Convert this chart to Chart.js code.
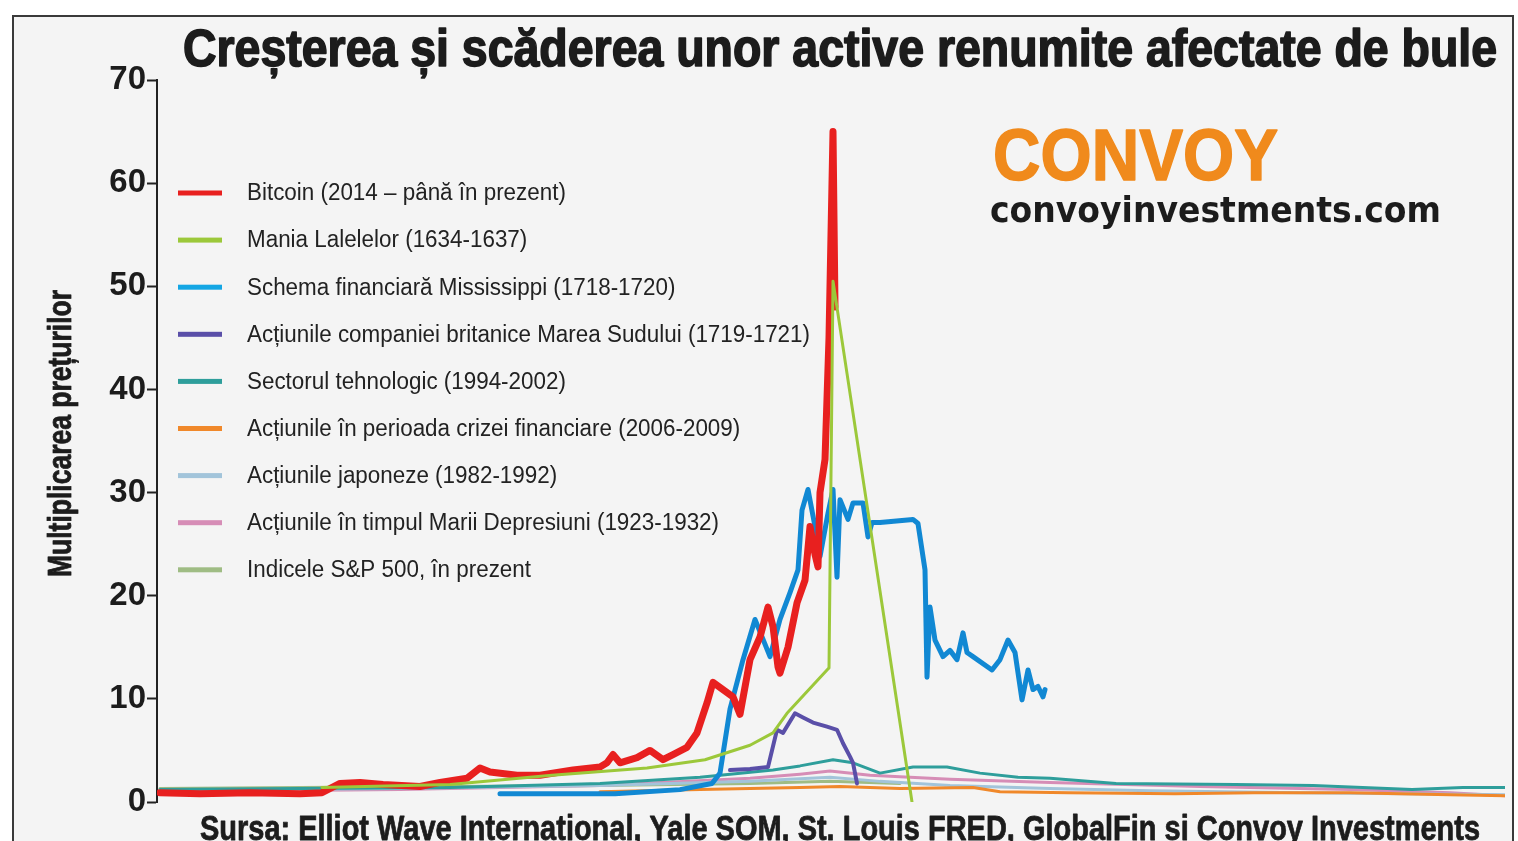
<!DOCTYPE html>
<html>
<head>
<meta charset="utf-8">
<script src="https://cdn.jsdelivr.net/npm/chart.js@4.4.1/dist/chart.umd.min.js"></script>
<style>
  html, body { margin: 0; padding: 0; background: #fff; overflow: hidden; }
  #wrap { position: relative; width: 1518px; height: 841px; }
  #frame { position: absolute; left: 12px; top: 15px; width: 1498px; height: 840px;
           border: 2px solid #3a3a3a; background: #f4f4f4; }
  canvas { position: absolute; left: 0; top: 0; }
</style>
</head>
<body>
<div id="wrap">
  <div id="frame"></div>
  <canvas id="chart" width="1518" height="841"></canvas>
</div>
<script>
// x = relative time step (no axis labels in the original), y = price multiple
const btcX = [0.3, 4.3, 9.3, 14.3, 16.5, 18.3, 20.3, 22.6, 26.3, 28.3, 31.0, 32.3, 33.3, 36.0, 38.3, 41.6, 44.3, 45.0, 45.6, 46.3, 48.0, 49.3, 50.6, 51.6, 53.0, 54.0, 55.0, 55.6, 56.6, 57.6, 58.3, 59.3, 60.3, 61.1, 61.6, 62.1, 62.3, 63.1, 64.0, 64.8, 65.3, 65.8, 66.1, 66.3, 66.8, 67.2, 67.6, 67.8];
const btcY = [0.9, 0.8, 0.9, 0.8, 0.9, 1.8, 1.9, 1.7, 1.5, 1.9, 2.3, 3.3, 2.9, 2.6, 2.6, 3.1, 3.4, 3.8, 4.6, 3.8, 4.3, 5.0, 4.1, 4.6, 5.3, 6.7, 9.6, 11.6, 10.9, 10.2, 8.5, 13.8, 16, 18.9, 17, 13.1, 12.5, 15, 19.3, 21.5, 26.7, 24, 22.8, 30, 33.2, 45, 65, 48];

const tulipX = [16.5, 29.3, 39.5, 49.0, 54.8, 59.3, 61.6, 63.0, 67.0, 67.2, 67.6, 75.5];
const tulipY = [1.4, 1.7, 2.6, 3.3, 4.1, 5.5, 6.7, 8.6, 12.8, 13, 50.5, 0];

const missX = [34.3, 45.8, 52.3, 55.5, 56.3, 57.3, 58.6, 59.8, 61.3, 62.3, 63.3, 64.1, 64.5, 65.1, 65.8, 66.3, 67.1, 67.6, 68.0, 68.3, 69.1, 69.6, 70.6, 71.1, 71.5, 72.3, 75.6, 76.1, 76.8, 77.0, 77.3, 77.8, 78.6, 79.3, 80.0, 80.6, 81.0, 81.6, 83.5, 84.3, 85.1, 85.8, 86.5, 87.1, 87.6, 88.1, 88.6, 88.8];
const missY = [0.8, 0.8, 1.2, 1.8, 2.8, 9.0, 13.8, 17.7, 14.1, 17.7, 20.3, 22.5, 28.3, 30.3, 26.7, 23.8, 28, 30.3, 21.8, 29.3, 27.4, 29, 29, 25.7, 27.1, 27.1, 27.4, 27.0, 22.5, 12.1, 18.9, 15.7, 14.1, 14.7, 13.8, 16.4, 14.5, 14.1, 12.8, 13.8, 15.7, 14.5, 9.9, 12.8, 10.9, 11.2, 10.2, 10.9];

const southSeaX = [57.3, 59.3, 61.1, 62.0, 62.6, 63.8, 64.6, 65.6, 67.0, 68.0, 68.6, 69.3, 69.6, 70.0];
const southSeaY = [3.1, 3.2, 3.4, 7.0, 6.7, 8.6, 8.2, 7.7, 7.3, 7.0, 5.7, 4.4, 3.8, 1.8];

const techX = [0.3, 14.3, 29.3, 44.3, 54.3, 61.6, 64.3, 67.6, 69.6, 72.3, 75.6, 79.0, 82.3, 86.1, 89.3, 95.9, 107.8, 115.6, 125.5, 130.6, 134.8];
const techY = [1.2, 1.3, 1.4, 1.8, 2.4, 3.1, 3.5, 4.1, 3.8, 2.8, 3.4, 3.4, 2.8, 2.4, 2.3, 1.8, 1.7, 1.6, 1.2, 1.4, 1.4];

const crisisX = [44.3, 54.3, 64.3, 68.3, 74.3, 81.6, 84.3, 91.2, 101.8, 109.7, 119.3, 129.3, 134.8];
const crisisY = [1.0, 1.2, 1.4, 1.5, 1.3, 1.4, 1.0, 0.9, 0.8, 0.9, 0.9, 0.7, 0.6];

const japanX = [0.3, 24.3, 44.3, 59.3, 67.3, 72.3, 79.3, 89.3, 99.3, 114.3, 134.8];
const japanY = [1.1, 1.3, 1.6, 2.0, 2.4, 2.0, 1.6, 1.3, 1.1, 0.9, 0.7];

const depressionX = [0.3, 24.3, 44.3, 59.3, 64.3, 67.3, 71.3, 79.3, 89.3, 104.3, 119.3, 129.3, 134.8];
const depressionY = [1.0, 1.2, 1.6, 2.3, 2.7, 3.0, 2.6, 2.2, 1.9, 1.5, 1.2, 0.9, 0.6];

const spX = [0.3, 14.3, 29.3, 44.3, 59.3, 67.3, 74.3];
const spY = [1.3, 1.4, 1.5, 1.6, 1.8, 2.0, 1.8];

const seriesLabels = [
  'Bitcoin (2014 – până în prezent)',
  'Mania Lalelelor (1634-1637)',
  'Schema financiară Mississippi (1718-1720)',
  'Acțiunile companiei britanice Marea Sudului (1719-1721)',
  'Sectorul tehnologic (1994-2002)',
  'Acțiunile în perioada crizei financiare (2006-2009)',
  'Acțiunile japoneze (1982-1992)',
  'Acțiunile în timpul Marii Depresiuni (1923-1932)',
  'Indicele S&P 500, în prezent'
];
const yTicks = [0, 10, 20, 30, 40, 50, 60, 70];

const seriesX = [btcX, tulipX, missX, southSeaX, techX, crisisX, japanX, depressionX, spX];
const seriesY = [btcY, tulipY, missY, southSeaY, techY, crisisY, japanY, depressionY, spY];
const colors = ['#e8201f', '#9cc83a', '#1188d3', '#5a4fa8', '#2e9e9b', '#f0882a', '#a2c4da', '#d68db6', '#9fbc84'];
const legendColors = ['#e8201f', '#9cc83a', '#14a6e4', '#5a4fa8', '#2e9e9b', '#f0882a', '#a2c4da', '#d68db6', '#9fbc84'];
const widths = [7, 3, 5, 4, 3, 3, 3, 3, 3];
// tulip line sits on top of bitcoin at the peak
const drawOrder = [0, -1, 0, 0, 0, 0, 0, 0, 0];

const pairs = (xs, ys) => xs.map((x, i) => ({ x: x, y: ys[i] }));

const datasets = seriesLabels.map((label, i) => ({
  label: label,
  data: pairs(seriesX[i], seriesY[i]),
  borderColor: colors[i],
  backgroundColor: legendColors[i],
  borderWidth: widths[i],
  order: drawOrder[i],
  pointRadius: 0,
  tension: 0,
  borderJoinStyle: 'round',
  borderCapStyle: 'round'
}));

// draw text squeezed horizontally into a given width (condensed look)
function fitText(ctx, text, x, y, font, width, stroke) {
  ctx.font = font;
  const w = ctx.measureText(text).width;
  ctx.save();
  ctx.translate(x, y);
  ctx.scale(Math.min(1, width / w), 1);
  ctx.fillText(text, 0, 0);
  if (stroke) {
    ctx.lineWidth = stroke;
    ctx.strokeStyle = ctx.fillStyle;
    ctx.lineJoin = 'round';
    ctx.strokeText(text, 0, 0);
  }
  ctx.restore();
}

const decor = {
  id: 'decor',
  afterDraw(chart) {
    const ctx = chart.ctx;
    ctx.save();
    ctx.textBaseline = 'alphabetic';
    ctx.textAlign = 'left';

    ctx.fillStyle = '#1c1c1c';
    fitText(ctx, 'Creșterea și scăderea unor active renumite afectate de bule', 183, 66,
      'bold 51px "Liberation Sans", Arial, sans-serif', 1314, 1.6);

    // y axis title
    ctx.save();
    ctx.translate(71, 577);
    ctx.rotate(-Math.PI / 2);
    fitText(ctx, 'Multiplicarea prețurilor', 0, 0, 'bold 34px "Liberation Sans", Arial, sans-serif', 287, 0.8);
    ctx.restore();

    // watermark
    ctx.fillStyle = '#f08a1c';
    fitText(ctx, 'CONVOY', 993, 180, 'bold 72px "Liberation Sans", Arial, sans-serif', 285, 1.5);
    ctx.fillStyle = '#1c1c1c';
    fitText(ctx, 'convoyinvestments.com', 990, 222, 'bold 35px "DejaVu Sans", sans-serif', 451);

    // source
    fitText(ctx, 'Sursa: Elliot Wave International, Yale SOM, St. Louis FRED, GlobalFin si Convoy Investments',
      200, 840, 'bold 35px "Liberation Sans", Arial, sans-serif', 1280, 0.8);

    // legend
    const legendFont = '23px "Liberation Sans", Arial, sans-serif';
    ctx.font = legendFont;
    const longest = Math.max(...chart.data.datasets.map(d => ctx.measureText(d.label).width));
    const k = Math.min(1, 563 / longest);
    ctx.textBaseline = 'middle';
    chart.data.datasets.forEach((d, i) => {
      const yy = 193 + i * 47.1;
      ctx.fillStyle = d.backgroundColor;
      ctx.fillRect(178, yy - 2.5, 44, 5);
      ctx.fillStyle = '#222';
      ctx.save();
      ctx.translate(247, yy + 1);
      ctx.scale(k, 1);
      ctx.font = legendFont;
      ctx.fillText(d.label, 0, 0);
      ctx.restore();
    });
    ctx.restore();
  }
};

new Chart(document.getElementById('chart'), {
  type: 'line',
  data: { datasets: datasets },
  options: {
    responsive: false,
    animation: false,
    events: [],
    layout: { padding: { top: 80, right: 13, bottom: 39, left: 0 } },
    plugins: { legend: { display: false }, tooltip: { enabled: false } },
    scales: {
      x: { type: 'linear', min: 0, max: 134.8, display: false },
      y: {
        min: 0,
        max: 70,
        afterBuildTicks: (scale) => { scale.ticks = yTicks.map(v => ({ value: v })); },
        afterFit: (scale) => { scale.width = 157; },
        ticks: {
          color: '#1c1c1c',
          padding: 1,
          font: { family: '"Liberation Sans", Arial, sans-serif', weight: 'bold', size: 33 }
        },
        grid: { display: true, drawOnChartArea: false, drawTicks: true, tickLength: 10, tickColor: '#222', tickWidth: 2 },
        border: { display: true, color: '#222', width: 2 }
      }
    }
  },
  plugins: [decor]
});
</script>
</body>
</html>
